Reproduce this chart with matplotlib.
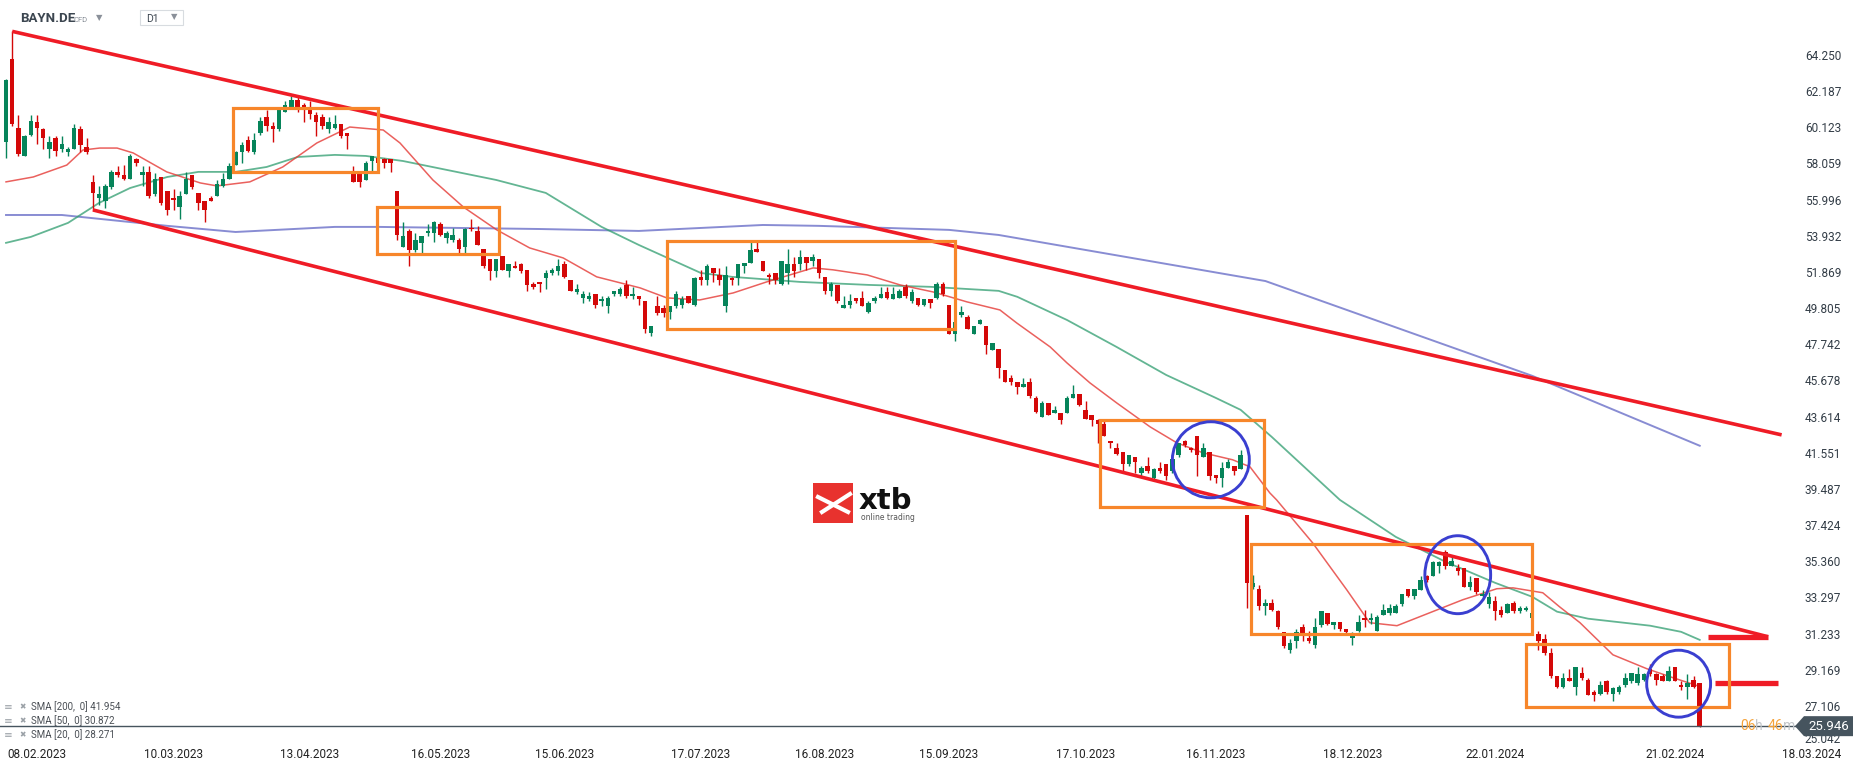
import numpy as np
import matplotlib
matplotlib.use("Agg")
import matplotlib.pyplot as plt
from matplotlib.patches import Rectangle, Ellipse, Polygon
import matplotlib.transforms as mtrans

plt.rcParams['font.family'] = ['Roboto', 'DejaVu Sans']

# daily candles BAYN.DE, one row = 10 sessions
opens = [
    59.3, 64.0, 60.1, 58.5, 59.7, 60.4, 60.0, 58.9, 59.5, 58.9,
    58.7, 58.9, 60.0, 59.0, 57.0, 56.1, 55.9, 56.7, 57.6, 57.4,
    57.2, 58.3, 57.4, 57.6, 56.3, 57.3, 56.5, 56.1, 55.6, 56.3,
    57.4, 56.4, 55.9, 56.1, 56.2, 56.8, 57.2, 58.0, 58.7, 59.4,
    58.7, 59.8, 60.7, 60.2, 60.0, 61.0, 61.3, 61.7, 61.4, 61.3,
    60.8, 60.7, 60.0, 60.1, 60.3, 59.8, 57.6, 57.5, 57.1, 58.2,
    58.4, 58.3, 58.3, 56.5, 53.3, 54.2, 53.1, 53.5, 54.1, 54.1,
    54.6, 53.8, 53.7, 53.7, 53.3, 54.4, 54.2, 53.2, 52.6, 51.9,
    52.8, 51.9, 52.2, 52.3, 52.0, 51.2, 51.3, 51.5, 51.8, 51.9,
    52.3, 51.4, 50.7, 50.4, 50.3, 50.6, 50.2, 49.9, 50.6, 50.6,
    51.1, 50.5, 50.5, 50.2, 48.4, 49.9, 49.8, 49.6, 49.9, 50.0,
    50.5, 50.0, 51.6, 51.4, 52.1, 51.7, 49.9, 51.5, 51.5, 52.2,
    52.4, 53.2, 52.5, 51.7, 51.8, 51.2, 51.8, 52.3, 52.3, 52.7,
    52.5, 52.6, 51.6, 50.8, 51.1, 49.8, 50.0, 50.4, 50.4, 49.6,
    50.2, 50.4, 50.7, 50.3, 50.4, 51.0, 50.2, 50.4, 50.0, 50.3,
    50.4, 51.2, 50.0, 48.3, 49.4, 49.3, 48.3, 48.9, 48.8, 47.4,
    47.5, 46.3, 45.8, 45.6, 45.3, 45.6, 44.7, 43.6, 44.4, 43.8,
    43.8, 43.8, 44.7, 44.9, 44.0, 43.7, 43.4, 43.2, 42.2, 41.8,
    41.6, 40.9, 41.3, 40.4, 40.8, 40.1, 40.7, 40.9, 40.5, 41.4,
    42.2, 41.8, 42.5, 41.3, 41.6, 40.3, 40.1, 40.7, 40.8, 40.6,
    38.0, 33.9, 33.8, 32.8, 33.0, 32.5, 31.3, 30.3, 30.8, 31.6,
    31.0, 30.6, 31.7, 32.4, 31.7, 31.9, 31.5, 31.0, 31.4, 32.1,
    32.0, 31.4, 32.3, 32.4, 32.4, 32.9, 33.8, 33.4, 33.7, 34.5,
    34.5, 35.1, 35.9, 35.1, 35.0, 35.0, 33.9, 34.4, 33.4, 32.9,
    33.1, 32.6, 32.4, 33.0, 32.5, 32.6, 32.1, 31.2, 30.9, 30.1,
    28.8, 28.2, 28.7, 28.2, 29.0, 28.6, 27.9, 27.8, 28.5, 27.8,
    27.9, 28.3, 28.5, 28.4, 28.6, 29.2, 28.9, 28.8, 28.5, 29.3,
    28.3, 28.2, 28.6, 28.4,
]
highs = [
    62.9, 65.6, 60.8, 59.7, 60.8, 60.8, 60.1, 59.6, 59.6, 59.6,
    59.0, 60.3, 60.2, 59.5, 57.4, 56.8, 56.9, 57.7, 57.9, 58.0,
    58.6, 58.4, 57.9, 57.9, 57.5, 57.3, 56.5, 56.6, 56.5, 57.6,
    57.4, 56.4, 55.9, 56.2, 57.1, 57.5, 58.1, 58.8, 59.3, 59.6,
    59.8, 60.7, 61.1, 60.4, 61.3, 61.6, 61.9, 61.9, 61.5, 61.6,
    61.0, 60.9, 60.7, 60.8, 60.3, 59.8, 57.9, 57.5, 58.2, 58.5,
    58.4, 58.4, 58.3, 56.5, 54.7, 54.3, 54.1, 53.9, 54.6, 54.8,
    54.7, 54.2, 54.4, 53.8, 54.4, 54.9, 54.5, 53.2, 52.6, 52.6,
    52.8, 52.3, 52.5, 52.4, 52.0, 51.3, 51.3, 52.0, 52.1, 52.6,
    52.5, 51.4, 51.2, 50.8, 50.7, 50.6, 50.5, 50.5, 50.8, 51.0,
    51.4, 51.0, 50.5, 50.2, 48.8, 50.5, 50.0, 49.9, 50.8, 50.5,
    50.5, 51.6, 52.0, 52.3, 52.1, 52.1, 52.2, 51.6, 52.3, 52.4,
    53.6, 53.6, 52.5, 51.8, 51.8, 52.5, 53.2, 52.7, 53.1, 52.7,
    52.9, 52.6, 51.6, 51.3, 51.1, 50.5, 50.6, 50.4, 50.8, 50.2,
    50.5, 51.0, 51.0, 51.0, 50.9, 51.2, 50.9, 50.4, 50.3, 50.3,
    51.3, 51.3, 50.0, 49.2, 49.9, 49.4, 48.8, 49.2, 48.8, 47.8,
    47.5, 46.3, 46.0, 45.6, 45.8, 45.8, 44.8, 44.5, 44.4, 44.2,
    43.8, 44.8, 45.4, 44.9, 44.5, 43.7, 43.5, 43.4, 42.2, 42.1,
    41.6, 41.4, 41.3, 40.8, 41.3, 40.7, 41.0, 40.9, 41.2, 42.1,
    42.3, 41.9, 42.5, 42.1, 41.6, 40.3, 41.0, 41.2, 40.8, 41.7,
    38.0, 34.6, 34.0, 33.2, 33.2, 32.6, 31.3, 30.9, 31.5, 31.8,
    31.4, 32.1, 32.5, 32.4, 31.9, 31.9, 31.5, 31.3, 32.3, 32.6,
    32.4, 32.3, 32.9, 32.9, 32.9, 33.5, 33.8, 33.8, 34.5, 34.6,
    35.4, 35.4, 36.0, 35.6, 35.2, 35.0, 34.5, 34.4, 33.7, 33.6,
    33.4, 32.8, 33.0, 33.1, 32.8, 32.8, 32.5, 31.4, 31.2, 30.4,
    28.8, 29.0, 29.2, 29.3, 29.3, 28.7, 28.0, 28.5, 28.6, 28.2,
    28.3, 29.0, 29.0, 29.3, 29.0, 29.5, 29.0, 28.9, 29.4, 29.3,
    28.5, 28.9, 28.8, 28.4,
]
lows = [
    58.4, 60.2, 58.5, 58.5, 59.6, 59.2, 58.9, 58.4, 58.5, 58.7,
    58.5, 58.9, 58.7, 58.6, 55.4, 55.7, 55.5, 56.6, 57.3, 57.1,
    57.2, 57.9, 56.8, 56.1, 56.2, 55.7, 55.1, 55.4, 54.9, 56.3,
    56.6, 55.4, 54.7, 55.9, 56.2, 56.7, 57.2, 58.0, 58.1, 58.7,
    58.6, 59.7, 59.9, 59.3, 59.9, 61.0, 61.2, 61.0, 60.4, 60.6,
    59.6, 60.0, 59.8, 60.0, 59.5, 58.9, 57.0, 56.7, 57.1, 57.6,
    57.5, 57.8, 57.6, 53.7, 53.3, 52.2, 53.0, 52.9, 53.9, 53.6,
    53.9, 53.5, 53.6, 52.9, 52.9, 54.2, 53.4, 52.1, 51.4, 51.6,
    52.0, 51.6, 52.1, 51.8, 50.8, 50.9, 50.7, 50.9, 51.7, 51.7,
    51.5, 50.8, 50.6, 50.1, 50.2, 49.8, 49.9, 49.5, 50.5, 50.5,
    50.4, 50.3, 50.0, 48.4, 48.2, 49.4, 49.3, 49.2, 49.8, 49.8,
    50.1, 49.9, 51.1, 51.1, 51.3, 51.1, 49.6, 51.1, 51.1, 51.8,
    52.4, 53.0, 51.9, 51.2, 51.2, 51.1, 51.2, 51.6, 52.0, 52.0,
    52.2, 51.5, 50.6, 50.5, 50.1, 49.8, 49.8, 50.1, 49.9, 49.5,
    50.1, 50.4, 50.3, 50.3, 50.4, 50.4, 50.1, 49.9, 49.9, 49.8,
    50.3, 50.5, 48.3, 47.9, 49.3, 48.6, 48.3, 48.9, 47.2, 47.4,
    45.8, 45.6, 45.4, 44.9, 45.3, 44.7, 43.8, 43.6, 43.7, 43.8,
    43.2, 43.8, 44.7, 44.2, 43.5, 43.1, 42.1, 42.5, 41.8, 41.4,
    40.4, 40.8, 40.4, 40.2, 40.4, 40.0, 40.4, 40.0, 40.4, 41.3,
    41.9, 41.6, 40.2, 41.3, 40.0, 39.8, 39.6, 40.7, 40.3, 40.6,
    32.7, 33.8, 32.6, 32.3, 32.5, 31.5, 30.4, 30.1, 30.4, 30.8,
    30.7, 30.4, 31.6, 31.7, 31.5, 31.4, 31.2, 30.6, 31.3, 31.6,
    31.8, 31.4, 32.3, 32.3, 32.4, 32.8, 33.3, 33.2, 33.7, 34.2,
    34.5, 34.7, 34.9, 35.1, 34.6, 33.9, 33.7, 33.5, 33.3, 32.7,
    32.0, 32.2, 32.4, 32.4, 32.4, 32.5, 31.7, 30.3, 30.0, 28.7,
    28.1, 28.1, 28.5, 27.7, 28.6, 27.7, 27.4, 27.7, 27.8, 27.4,
    27.8, 28.2, 28.4, 28.3, 28.5, 28.8, 28.3, 28.5, 28.5, 28.5,
    28.0, 27.5, 28.1, 25.9,
]
closes = [
    62.8, 60.3, 58.6, 59.6, 60.5, 60.1, 59.5, 59.3, 58.8, 59.2,
    58.9, 60.1, 59.1, 58.7, 56.4, 56.3, 56.8, 57.6, 57.4, 57.2,
    58.5, 58.1, 57.6, 56.2, 57.2, 55.8, 55.4, 56.0, 56.2, 57.2,
    56.7, 55.8, 55.4, 55.9, 56.9, 57.2, 57.9, 58.7, 59.1, 58.8,
    59.4, 60.5, 60.2, 60.0, 61.1, 61.4, 61.7, 61.3, 61.2, 60.9,
    60.4, 60.2, 60.4, 60.3, 59.6, 59.6, 57.0, 57.0, 58.1, 58.5,
    58.1, 58.1, 58.1, 54.0, 53.9, 53.1, 53.7, 53.9, 54.2, 54.7,
    54.0, 54.1, 54.0, 53.2, 54.3, 54.3, 53.4, 52.2, 51.9, 52.6,
    52.0, 52.3, 52.1, 51.9, 51.1, 51.0, 51.2, 51.8, 52.0, 52.2,
    51.6, 50.8, 50.9, 50.6, 50.5, 50.0, 50.3, 50.4, 50.8, 50.9,
    50.5, 50.6, 50.3, 48.6, 48.8, 49.5, 49.5, 49.9, 50.6, 50.3,
    50.1, 51.5, 51.4, 52.2, 51.8, 51.4, 51.7, 51.4, 52.3, 52.4,
    53.1, 53.0, 51.9, 51.6, 51.4, 52.5, 52.3, 51.9, 52.7, 52.4,
    52.7, 51.8, 50.8, 51.2, 50.2, 50.0, 50.2, 50.2, 49.9, 50.1,
    50.4, 50.6, 50.4, 50.6, 50.8, 50.5, 50.7, 50.0, 50.3, 50.1,
    51.2, 50.6, 48.3, 49.0, 49.6, 48.6, 48.8, 49.1, 47.7, 47.8,
    46.4, 45.6, 45.6, 45.3, 45.5, 44.8, 43.9, 44.4, 43.7, 44.0,
    43.4, 44.7, 44.9, 44.3, 43.5, 43.4, 43.2, 42.5, 42.1, 41.5,
    40.9, 41.4, 41.0, 40.7, 40.5, 40.6, 40.5, 40.2, 41.2, 42.1,
    42.0, 41.7, 41.4, 41.8, 40.2, 40.1, 40.7, 41.0, 40.5, 41.4,
    34.1, 34.1, 32.8, 33.0, 32.6, 31.6, 30.5, 30.7, 31.3, 31.1,
    30.8, 31.6, 32.5, 31.8, 31.9, 31.5, 31.3, 31.2, 31.9, 32.0,
    32.1, 32.2, 32.6, 32.7, 32.8, 33.5, 33.4, 33.8, 34.3, 34.3,
    35.3, 35.3, 35.1, 35.4, 34.8, 33.9, 34.2, 33.6, 33.5, 33.3,
    32.5, 32.3, 32.9, 32.5, 32.7, 32.7, 32.4, 30.8, 30.1, 28.8,
    28.2, 28.7, 28.5, 29.3, 28.7, 27.7, 27.7, 28.3, 27.9, 28.1,
    28.2, 28.7, 29.0, 28.9, 28.9, 28.9, 28.6, 28.5, 29.1, 28.5,
    28.2, 28.4, 28.2, 25.946,
]

# moving averages (read at sample points: session index, value)
sma200_x = [0, 9, 26, 37, 53, 60, 86, 102, 122, 131, 152, 160, 203, 246, 273]
sma200_y = [55.12, 55.12, 54.50, 54.15, 54.44, 54.44, 54.32, 54.21, 54.55, 54.50,
            54.27, 53.98, 51.35, 45.94, 41.95]
sma50_x = [0, 4, 10, 15, 20, 26, 31, 37, 42, 47, 53, 58, 64, 79, 87, 96, 102, 112,
           117, 128, 139, 149, 160, 163, 171, 179, 187, 195, 199, 204, 215, 224, 232,
           240, 246, 250, 255, 265, 270, 273]
sma50_y = [53.53, 53.87, 54.67, 55.81, 56.66, 57.29, 57.58, 57.58, 57.86, 58.43,
           58.55, 58.49, 58.20, 57.12, 56.38, 54.44, 53.41, 51.81, 51.59, 51.30,
           51.13, 51.02, 50.79, 50.45, 49.13, 47.59, 45.99, 44.68, 44.00, 42.46,
           38.86, 36.75, 35.33, 34.13, 33.33, 32.48, 32.08, 31.68, 31.33, 30.87]
sma20_x = [0, 4.4, 9.8, 12.4, 15.1, 17.9, 20.5, 25.9, 31.3, 34.0, 39.3, 44.6, 50.1,
           55.4, 60.8, 63.5, 68.8, 73.7, 79.1, 84.4, 89.8, 95.2, 102.2, 106.5, 111.8,
           117.2, 122.6, 130.1, 133.3, 138.8, 144.1, 149.4, 154.9, 160.2, 162.9, 168.3,
           171.0, 174.7, 179.0, 184.4, 188.7, 192.9, 197.7, 200.5, 203.7, 204.8, 210.6,
           216.1, 219.8, 224.2, 229.5, 234.8, 240.3, 242.9, 247.7, 250.4, 253.7, 259.0,
           264.5, 268.7, 272.5]
sma20_y = [57.01, 57.29, 57.97, 58.83, 58.94, 58.94, 58.66, 57.58, 56.95, 56.78,
           57.01, 57.86, 59.23, 60.14, 59.97, 59.23, 57.12, 55.58, 54.27, 53.24,
           52.67, 51.59, 50.96, 50.39, 50.27, 50.67, 51.30, 52.10, 51.99, 51.70,
           51.13, 50.73, 50.16, 49.70, 48.96, 47.59, 46.68, 45.54, 44.40, 43.03,
           42.12, 41.55, 41.15, 40.75, 39.26, 38.86, 36.41, 33.73, 31.85, 31.68,
           32.42, 33.16, 33.79, 33.84, 33.56, 32.76, 31.85, 30.02, 29.22, 28.71,
           28.27]

date_labels = ['08.02.2023', '10.03.2023', '13.04.2023', '16.05.2023', '15.06.2023',
               '17.07.2023', '16.08.2023', '15.09.2023', '17.10.2023', '16.11.2023',
               '18.12.2023', '22.01.2024', '21.02.2024', '18.03.2024']
date_pos = [5, 27, 49, 70, 90, 112, 132, 152, 174, 195, 217, 240, 269, 291]
price_ticks = [25.042, 27.106, 29.169, 31.233, 33.297, 35.360, 37.424, 39.487,
               41.551, 43.614, 45.678, 47.742, 49.805, 51.869, 53.932, 55.996,
               58.059, 60.123, 62.187, 64.250]

# drawings on the chart
boxes = [(36.6, 60.0, 57.58, 61.23), (59.8, 79.5, 52.90, 55.58),
         (106.5, 152.9, 48.62, 53.64), (176.3, 202.7, 38.46, 43.43),
         (200.6, 245.9, 31.22, 36.35), (245.0, 277.7, 27.05, 30.65)]
circles = [(194.2, 41.15, 12.4, 4.34), (234.0, 34.59, 10.6, 4.45),
           (269.6, 28.37, 10.3, 3.82)]
upper_x, upper_y = [1, 286.2], [65.6, 42.57]
lower_x, lower_y = [14, 284.0], [55.41, 31.05]
levels = [(274.3, 284.0, 31.05), (275.4, 285.6, 28.42)]

GREEN = '#06845a'
RED = '#d40808'
W, H = 1866, 767

fig = plt.figure(figsize=(W / 100, H / 100), dpi=100)
ax = fig.add_axes([0, 25 / H, 1, 742 / H])
ax.set_xlim(-0.97, 299.8)
ax.set_ylim(25.042, 67.39)
for s in ax.spines.values():
    s.set_visible(False)

o = np.array(opens)
h = np.array(highs)
l = np.array(lows)
c = np.array(closes)
idx = np.arange(len(c))
cols = np.where(c >= o, GREEN, RED)

ax.plot(sma200_x, sma200_y, color='#6b70c8', lw=1.4, alpha=0.8, zorder=2)
ax.plot(sma50_x, sma50_y, color='#2f9d6f', lw=1.3, alpha=0.75, zorder=2)
ax.plot(sma20_x, sma20_y, color='#e53935', lw=1.1, alpha=0.8, zorder=2)

ax.vlines(idx, l, h, colors=cols, lw=1.0, zorder=3)
body = np.maximum(np.abs(c - o), 0.08)
ax.bar(idx, body, bottom=np.minimum(o, c), width=0.72, color=cols, lw=0, zorder=3.5)

# trend channel and levels
ax.plot(upper_x, upper_y, color='#ef1c26', lw=2.6, solid_capstyle='butt', zorder=5)
ax.plot(lower_x, lower_y, color='#ef1c26', lw=2.6, solid_capstyle='butt', zorder=5)
for x0, x1, p in levels:
    ax.plot([x0, x1], [p, p], color='#ef1c26', lw=3.8, solid_capstyle='butt', zorder=5)

for x0, x1, lo, hi in boxes:
    ax.add_patch(Rectangle((x0, lo), x1 - x0, hi - lo, fill=False,
                           edgecolor='#f7862a', lw=2.3, zorder=6))
for cx, cy, cw, ch in circles:
    ax.add_patch(Ellipse((cx, cy), cw, ch, fill=False, edgecolor='#3a3fd0',
                         lw=2.1, zorder=6))

# last price line + label
last = closes[-1]
ax.axhline(last, xmax=1796 / W, color='#46545e', lw=1.0, zorder=4)
bt = mtrans.blended_transform_factory(ax.transAxes, ax.transData)
dp = 10 / 17.53
ax.add_patch(Polygon([(1795 / W, last), (1804 / W, last + dp), (1853 / W, last + dp),
                      (1853 / W, last - dp), (1804 / W, last - dp)], closed=True,
                     transform=bt, facecolor='#46545e', edgecolor='none', zorder=8,
                     clip_on=False))
ax.text(1829 / W, last, f'{last:.3f}', transform=bt, color='white', fontsize=9.5,
        ha='center', va='center', zorder=9)
for txt, px, col in [('06', 1740, '#f5a33a'), ('h', 1755, '#c3c7cb'),
                     ('46', 1768, '#f5a33a'), ('m', 1783, '#c3c7cb')]:
    ax.text(px / W, last, txt, transform=bt, color=col, fontsize=10,
            ha='left', va='center', zorder=7)

# axes ticks
ax.yaxis.tick_right()
ax.set_yticks(price_ticks, [f'{v:.3f}' for v in price_ticks])
ax.tick_params(axis='y', length=0, pad=-44, labelsize=8.5, labelcolor='#333d47')
ax.set_xticks(date_pos, date_labels)
ax.tick_params(axis='x', length=0, pad=4.5, labelsize=8.5, labelcolor='#222222')
# lowest price label sits a little higher, as in the platform
for lab in ax.get_yticklabels():
    if lab.get_text() == '25.042':
        lab.set_transform(lab.get_transform() +
                          mtrans.ScaledTranslation(0, 4 / 100, fig.dpi_scale_trans))


def fx(px):
    return px / W


def fy(py):
    return 1 - py / H


# header
fig.text(fx(20), fy(19), 'BAYN.DE', fontsize=9.5, fontweight='bold', color='#3c4650',
         va='center')
fig.text(fx(73), fy(20), 'CFD', fontsize=5.5, color='#8a9099', va='center')
fig.text(fx(96), fy(18), '▼', fontsize=6, color='#8a9099', va='center',
         family='DejaVu Sans')
fig.add_artist(Rectangle((fx(140), fy(25)), fx(43), 15 / H, fill=False,
                         edgecolor='#d8dce0', lw=0.8))
fig.text(fx(146), fy(19), 'D1', fontsize=7.5, color='#3c4650', va='center')
fig.text(fx(171), fy(17), '▼', fontsize=6, color='#8a9099', va='center',
         family='DejaVu Sans')

# indicator legend
for py, name in [(707, 'SMA [200,  0] 41.954'), (721, 'SMA [50,  0] 30.872'),
                 (735, 'SMA [20,  0] 28.271')]:
    fig.text(fx(4), fy(py), '≡', fontsize=7.5, color='#9aa0a6', va='center',
             family='DejaVu Sans')
    fig.text(fx(19), fy(py), '✖', fontsize=5.5, color='#9aa0a6', va='center',
             family='DejaVu Sans')
    fig.text(fx(31), fy(py), name, fontsize=7, color='#4a4f55', va='center')

# xtb logo
fig.add_artist(Rectangle((fx(813), fy(523)), fx(40), 40 / H, facecolor='#e8322e',
                         edgecolor='none'))
fig.add_artist(plt.Line2D([fx(818), fx(848)], [fy(497), fy(512)], color='white', lw=3))
fig.add_artist(plt.Line2D([fx(822), fx(850)], [fy(512), fy(494)], color='white', lw=3))
fig.text(fx(859), fy(501), 'xtb', fontsize=21, fontweight='bold', color='#111111',
         va='center', family='DejaVu Sans')
fig.text(fx(861), fy(518), 'online trading', fontsize=5.5, color='#555555',
         va='center', family='DejaVu Sans')

fig.savefig('out.png', dpi=100, facecolor='white')
